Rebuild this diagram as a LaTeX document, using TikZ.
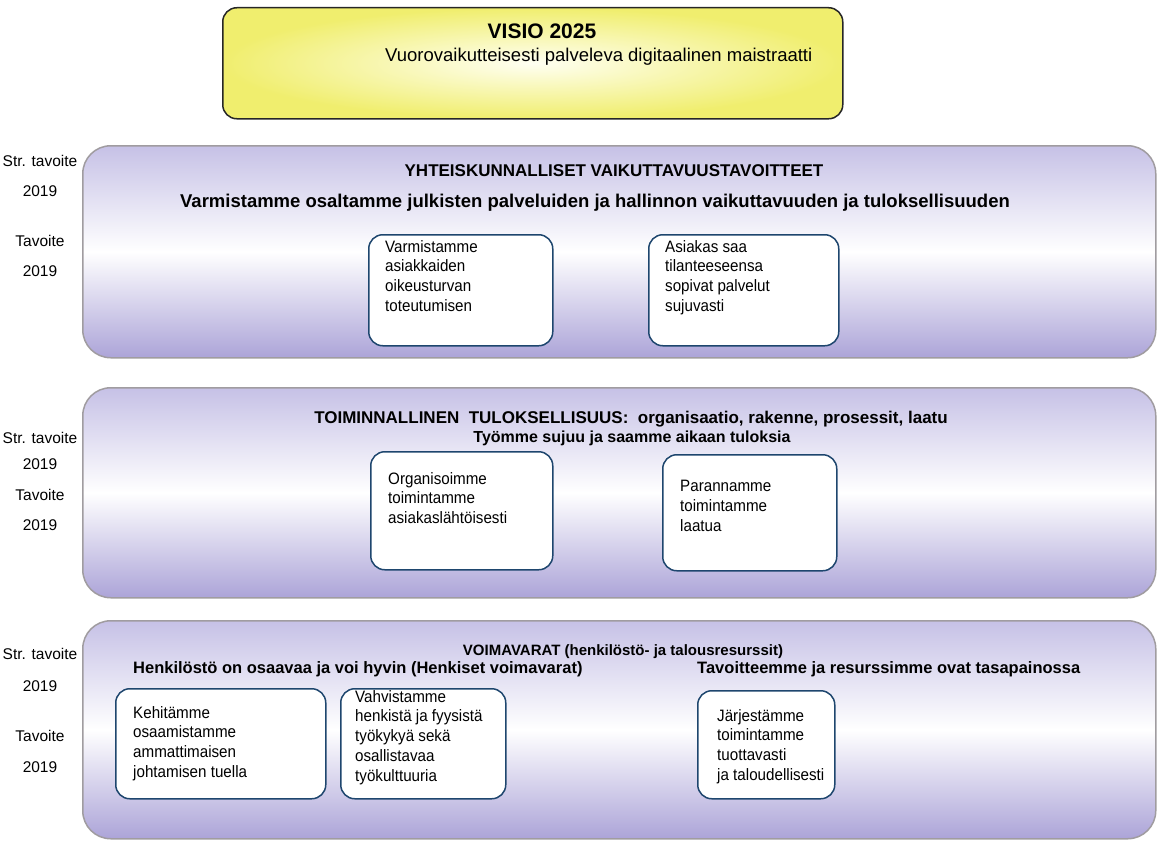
\documentclass[tikz,border=0pt]{standalone}
\usepackage{fontspec}
\setmainfont{Liberation Sans}
\newfontfamily\narrowfont[FakeStretch=0.92]{Liberation Sans}
\usepackage{xcolor}
\usetikzlibrary{positioning,calc}
\definecolor{visioyellow}{RGB}{240,238,110}
\definecolor{visiolight}{RGB}{255,255,242}
\definecolor{bandtop}{RGB}{198,193,230}
\definecolor{bandbottom}{RGB}{172,164,216}
\definecolor{bandline}{RGB}{160,156,160}
\definecolor{goalline}{RGB}{30,70,110}
\tikzset{
  visiobox/.style={draw=black!85,line width=1.5pt,rounded corners=14pt,inner color=visiolight,outer color=visioyellow},
  band/.style={draw=bandline,line width=1.5pt,rounded corners=28pt,top color=bandtop,bottom color=bandbottom,middle color=white},
  goalbox/.style={draw=goalline,line width=1.5pt,rounded corners=14pt,fill=white},
  goaltext/.style={font=\narrowfont\fontsize{16.5}{19.8}\selectfont,align=left,inner sep=0pt,anchor=north west},
  sidelabel/.style={font=\fontsize{15.5}{19}\selectfont,inner sep=0pt},
  headline/.style={font=\bfseries\fontsize{17}{20}\selectfont,inner sep=0pt},
  subline/.style={font=\bfseries\fontsize{18.5}{22}\selectfont,inner sep=0pt},
  resline/.style={font=\bfseries\fontsize{16.5}{19}\selectfont,inner sep=0pt,anchor=west}
}
\begin{document}
\begin{tikzpicture}[line cap=round,line join=round,x=1pt,y=-1pt]
\useasboundingbox (0,0) rectangle (1169,843);
\node[visiobox,minimum width=620pt,minimum height=111pt,anchor=north west] (visio) at (222,7) {};
\node[headline,font=\bfseries\fontsize{21}{24}\selectfont] (visiotitle) at (542,31) {VISIO 2025};
\node[sidelabel,font=\fontsize{18.5}{22}\selectfont,anchor=west] (visiotext) at (385,57) {Vuorovaikutteisesti palveleva digitaalinen maistraatti};

\node[band,minimum width=1073pt,minimum height=212pt,anchor=north west] (band1) at (82,145) {};
\node[band,minimum width=1073pt,minimum height=210pt,anchor=north west] (band2) at (82,387) {};
\node[band,minimum width=1073pt,minimum height=218pt,anchor=north west] (band3) at (82,620) {};

\node[sidelabel] (str1) at (40,161) {Str. tavoite};
\node[sidelabel] (year1a) at (40,191) {2019};
\node[sidelabel] (tav1) at (40,241) {Tavoite};
\node[sidelabel] (year1b) at (40,271) {2019};
\node[sidelabel] (str2) at (40,438) {Str. tavoite};
\node[sidelabel] (year2a) at (40,464) {2019};
\node[sidelabel] (tav2) at (40,495) {Tavoite};
\node[sidelabel] (year2b) at (40,525) {2019};
\node[sidelabel] (str3) at (40,654) {Str. tavoite};
\node[sidelabel] (year3a) at (40,686) {2019};
\node[sidelabel] (tav3) at (40,736) {Tavoite};
\node[sidelabel] (year3b) at (40,767) {2019};

\node[headline] (title1) at (614,171) {YHTEISKUNNALLISET VAIKUTTAVUUSTAVOITTEET};
\node[subline] (sub1) at (595,203) {Varmistamme osaltamme julkisten palveluiden ja hallinnon vaikuttavuuden ja tuloksellisuuden};
\node[headline] (title2) at (631,419) {TOIMINNALLINEN\ \ TULOKSELLISUUS:\ \ organisaatio, rakenne, prosessit, laatu};
\node[headline,font=\bfseries\fontsize{16}{19}\selectfont] (sub2) at (632,438) {Työmme sujuu ja saamme aikaan tuloksia};
\node[headline,font=\bfseries\fontsize{15}{18}\selectfont] (title3) at (623,652) {VOIMAVARAT (henkilöstö- ja talousresurssit)};
\node[resline] (sub3a) at (133,669) {Henkilöstö on osaavaa ja voi hyvin (Henkiset voimavarat)};
\node[resline] (sub3b) at (697,669) {Tavoitteemme ja resurssimme ovat tasapainossa};

\node[goalbox,minimum width=184pt,minimum height=111pt,anchor=north west] (goalA) at (368,234) {};
\node[goaltext] (textA) at (385,240) {Varmistamme\\asiakkaiden\\oikeusturvan\\toteutumisen};
\node[goalbox,minimum width=190pt,minimum height=111pt,anchor=north west] (goalB) at (648,234) {};
\node[goaltext] (textB) at (665,240) {Asiakas saa\\tilanteeseensa\\sopivat palvelut\\sujuvasti};
\node[goalbox,minimum width=182pt,minimum height=118pt,anchor=north west] (goalC) at (370,451) {};
\node[goaltext] (textC) at (388,472) {Organisoimme\\toimintamme\\asiakaslähtöisesti};
\node[goalbox,minimum width=174pt,minimum height=116pt,anchor=north west] (goalD) at (662,454) {};
\node[goaltext] (textD) at (680,480) {Parannamme\\toimintamme\\laatua};
\node[goalbox,minimum width=210pt,minimum height=110pt,anchor=north west] (goalE) at (115,688) {};
\node[goaltext] (textE) at (133,706) {Kehitämme\\osaamistamme\\ammattimaisen\\johtamisen tuella};
\node[goalbox,minimum width=165pt,minimum height=110pt,anchor=north west] (goalF) at (340,688) {};
\node[goaltext] (textF) at (355,690) {Vahvistamme\\henkistä ja fyysistä\\työkykyä sekä\\osallistavaa\\työkulttuuria};
\node[goalbox,minimum width=137pt,minimum height=108pt,anchor=north west] (goalG) at (697,690) {};
\node[goaltext] (textG) at (717,709) {Järjestämme\\toimintamme\\tuottavasti\\ja taloudellisesti};
\end{tikzpicture}
\end{document}
